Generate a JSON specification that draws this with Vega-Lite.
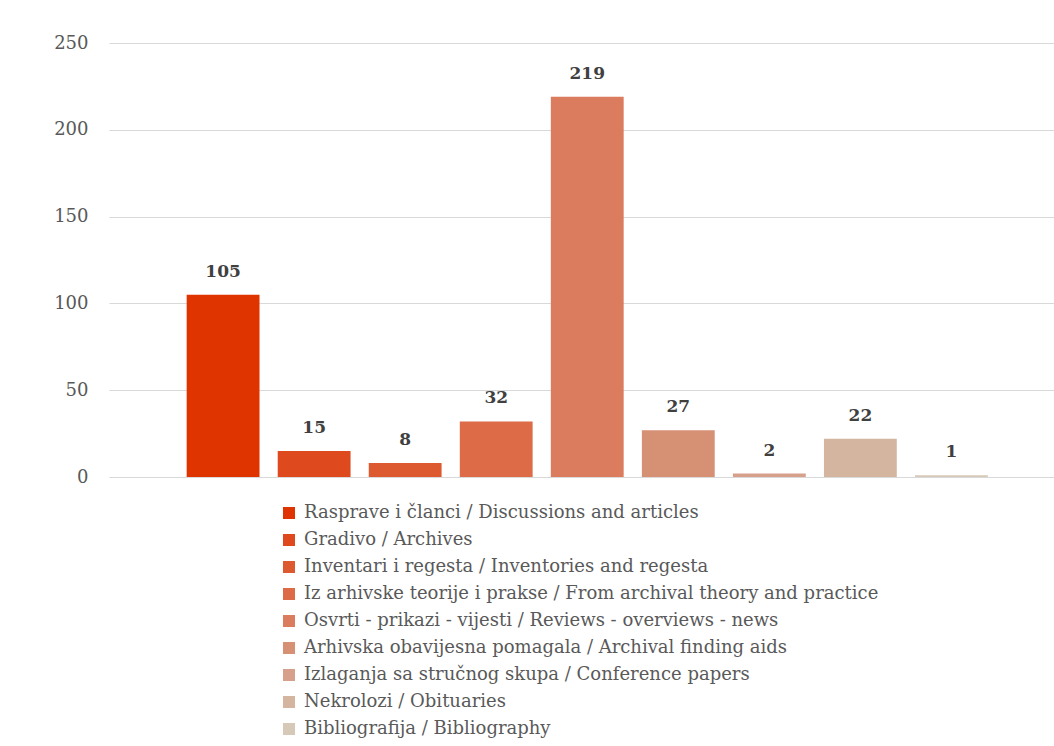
{
  "$schema": "https://vega.github.io/schema/vega-lite/v6.json",
  "width": 945,
  "height": 434,
  "autosize": {"type": "none"},
  "padding": {"left": 109, "top": 43, "right": 0, "bottom": 269},
  "background": "white",
  "data": {
    "values": [
      {"category": "Rasprave i članci / Discussions and articles", "count": 105},
      {"category": "Gradivo / Archives", "count": 15},
      {"category": "Inventari i regesta / Inventories and regesta", "count": 8},
      {"category": "Iz arhivske teorije i prakse / From archival theory and practice", "count": 32},
      {"category": "Osvrti - prikazi - vijesti / Reviews - overviews - news", "count": 219},
      {"category": "Arhivska obavijesna pomagala / Archival finding aids", "count": 27},
      {"category": "Izlaganja sa stručnog skupa / Conference papers", "count": 2},
      {"category": "Nekrolozi / Obituaries", "count": 22},
      {"category": "Bibliografija / Bibliography", "count": 1}
    ]
  },
  "encoding": {
    "x": {
      "field": "category",
      "type": "nominal",
      "sort": null,
      "axis": null,
      "scale": {"paddingInner": 0.2, "paddingOuter": 0.79, "align": 0.54}
    },
    "y": {
      "field": "count",
      "type": "quantitative",
      "scale": {"domain": [0, 250], "nice": false},
      "axis": {
        "title": null,
        "values": [0, 50, 100, 150, 200, 250],
        "domain": false,
        "ticks": false,
        "labelPadding": 21,
        "labelFont": "DejaVu Serif",
        "labelFontSize": 18,
        "labelColor": "#595959",
        "gridColor": "#d9d9d9",
        "gridWidth": 1
      }
    }
  },
  "layer": [
    {
      "mark": {"type": "bar"},
      "encoding": {
        "color": {
          "field": "category",
          "type": "nominal",
          "sort": null,
          "scale": {
            "range": ["#e03400", "#de4a1e", "#dd5a30", "#dd6b48", "#dc7c5e", "#d69074", "#d6a08a", "#d4b5a0", "#d6c9b8"]
          },
          "legend": {
            "title": null,
            "orient": "none",
            "legendX": 171,
            "legendY": 461,
            "symbolType": "square",
            "symbolSize": 144,
            "symbolStrokeWidth": 0,
            "labelFont": "DejaVu Serif",
            "labelFontSize": 18,
            "labelColor": "#595959",
            "labelLimit": 800,
            "labelOffset": 6,
            "rowPadding": 9
          }
        }
      }
    },
    {
      "mark": {
        "type": "text",
        "baseline": "middle",
        "dy": -23,
        "font": "DejaVu Serif",
        "fontWeight": "bold",
        "fontSize": 17,
        "color": "#404040"
      },
      "encoding": {"text": {"field": "count", "type": "quantitative"}}
    }
  ],
  "config": {"view": {"stroke": null}}
}
